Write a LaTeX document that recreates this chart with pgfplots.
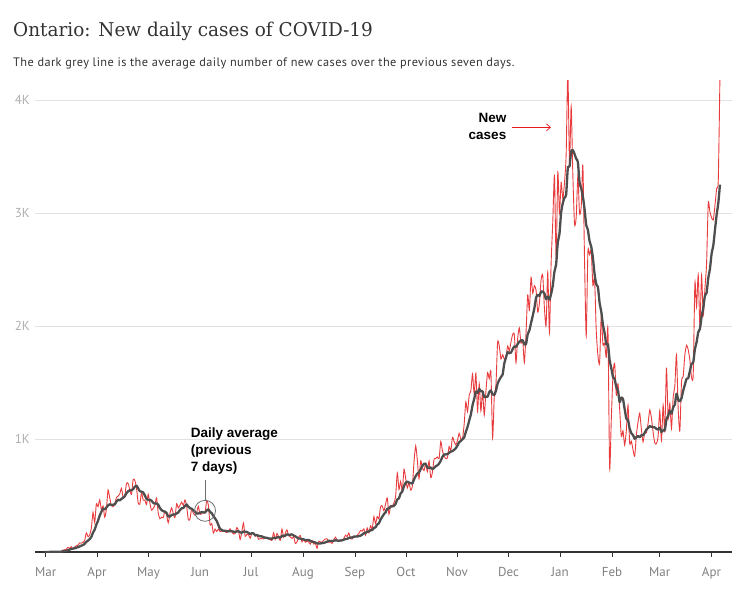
\documentclass[border=0pt]{standalone}
\usepackage{pgfplots}
\pgfplotsset{compat=1.18}
\usetikzlibrary{arrows.meta}
\usepackage{fontspec}
\setmainfont{PT Sans}
\newfontfamily\subfont{PT Sans}[LetterSpace=3.4]
\newfontfamily\titlefont{DejaVu Serif}[FakeStretch=0.97]
\newfontfamily\annfont{Liberation Sans}
\definecolor{redline}{RGB}{228,26,28}
\definecolor{avgline}{RGB}{78,78,78}
\definecolor{gridc}{RGB}{226,226,226}
\definecolor{xlab}{RGB}{128,128,128}
\definecolor{ylab}{RGB}{175,175,175}
\definecolor{txt}{RGB}{51,51,51}
\definecolor{circ}{RGB}{110,110,110}
\begin{document}
\begin{tikzpicture}[x=1pt,y=1pt]
\useasboundingbox (0,0) rectangle (749,589);
\node[anchor=base west, inner sep=0pt, text=txt, font=\titlefont\fontsize{19}{23}\selectfont] at (13,552.3) {Ontario: New daily cases of COVID-19};
\node[anchor=base west, inner sep=0pt, text=txt, font=\subfont\fontsize{12.3}{14}\selectfont] at (13,522.3) {The dark grey line is the average daily number of new cases over the previous seven days.};
\begin{axis}[
  at={(35pt,37pt)}, anchor=south west,
  width=697pt, height=471.2pt, scale only axis,
  xmin=-5.7, xmax=411.2, ymin=0, ymax=4170,
  axis x line*=bottom, axis y line*=left,
  y axis line style={draw=none},
  x axis line style={color=txt, line width=1.3pt, -},
  xtick={0.7,31.4,62.2,93,123.5,154.6,185.7,216.2,246.7,277.6,308.3,339.4,367.9,398.9},
  xticklabels={Mar,Apr,May,Jun,Jul,Aug,Sep,Oct,Nov,Dec,Jan,Feb,Mar,Apr},
  ytick={1000,2000,3000,4000}, yticklabels={1K,2K,3K,4K},
  ymajorgrids, grid style={gridc, line width=0.9pt},
  xtick align=outside, major tick length=4.5pt,
  xtick style={color=txt, line width=0.9pt},
  ytick style={draw=none},
  x tick label style={font=\fontsize{13}{15}\selectfont, text=xlab, anchor=base, inner sep=0pt, yshift=-20pt},
  y tick label style={font=\fontsize{13}{15}\selectfont, text=ylab, anchor=east, inner sep=0pt, xshift=-5pt},
  clip=true,
]
\addplot[color=redline, line width=0.9pt, draw opacity=0.85, smooth, tension=0.4, no markers] coordinates {
(0,0)(1,1)(2,2)(3,2)(4,2)(5,5)(6,3)(7,2)(8,3)(9,4)(10,5)(11,17)(12,20)(13,24)(14,42)(15,32)(16,47)(17,25)(18,43)(19,55)(20,60)(21,81)(22,78)(23,85)(24,100)(25,170)(26,135)(27,151)(28,211)(29,351)(30,260)
(31,426)(32,401)(33,462)(34,375)(35,408)(36,309)(37,379)(38,550)(39,478)(40,411)(41,401)(42,421)(43,483)(44,494)(45,514)(46,564)(47,485)(48,497)(49,606)(50,606)(51,551)(52,510)(53,640)(54,634)(55,567)(56,437)(57,424)(58,525)(59,459)(60,460)
(61,421)(62,511)(63,434)(64,370)(65,387)(66,412)(67,477)(68,346)(69,294)(70,308)(71,304)(72,361)(73,329)(74,258)(75,340)(76,391)(77,340)(78,304)(79,427)(80,390)(81,413)(82,441)(83,412)(84,460)(85,404)(86,287)(87,292)(88,383)(89,344)(90,326)(91,346)
(92,404)(93,335)(94,338)(95,356)(96,344)(97,455)(98,415)(99,243)(100,251)(101,167)(102,203)(103,182)(104,203)(105,181)(106,184)(107,190)(108,178)(109,173)(110,180)(111,206)(112,177)(113,159)(114,163)(115,216)(116,189)(117,111)(118,178)(119,257)(120,138)(121,157)
(122,153)(123,121)(124,164)(125,165)(126,138)(127,154)(128,112)(129,118)(130,118)(131,116)(132,129)(133,130)(134,116)(135,111)(136,102)(137,170)(138,111)(139,164)(140,135)(141,103)(142,203)(143,129)(144,165)(145,195)(146,144)(147,134)(148,119)(149,137)(150,76)(151,89)(152,131)
(153,146)(154,90)(155,114)(156,86)(157,95)(158,88)(159,70)(160,102)(161,70)(162,77)(163,33)(164,95)(165,87)(166,88)(167,105)(168,115)(169,117)(170,86)(171,89)(172,76)(173,109)(174,131)(175,105)(176,95)(177,108)(178,100)(179,118)(180,148)(181,137)(182,169)(183,118)
(184,114)(185,141)(186,132)(187,148)(188,165)(189,190)(190,185)(191,204)(192,149)(193,213)(194,170)(195,232)(196,204)(197,313)(198,251)(199,315)(200,293)(201,401)(202,407)(203,365)(204,425)(205,478)(206,335)(207,409)(208,409)(209,435)(210,491)(211,700)(212,554)(213,625)
(214,538)(215,732)(216,653)(217,566)(218,615)(219,548)(220,583)(221,797)(222,939)(223,809)(224,649)(225,807)(226,746)(227,721)(228,783)(229,712)(230,805)(231,658)(232,704)(233,821)(234,827)(235,841)(236,826)(237,978)(238,896)(239,851)(240,827)(241,834)(242,934)(243,896)(244,1015)
(245,977)(246,948)(247,987)(248,1050)(249,998)(250,1003)(251,1132)(252,1328)(253,1242)(254,1388)(255,1426)(256,1575)(257,1396)(258,1581)(259,1248)(260,1487)(261,1249)(262,1417)(263,1210)(264,1418)(265,1588)(266,1534)(267,1589)(268,1009)(269,1373)(270,1478)(271,1855)(272,1822)(273,1708)(274,1746)
(275,1707)(276,1723)(277,1824)(278,1780)(279,1859)(280,1924)(281,1925)(282,1676)(283,1890)(284,1983)(285,1848)(286,1873)(287,1677)(288,1940)(289,2275)(290,2139)(291,2432)(292,2290)(293,2357)(294,2316)(295,2123)(296,2202)(297,2408)(298,2447)(299,2159)(300,2005)(301,2476)(302,1939)(303,2553)(304,2923)(305,3328)
(306,2600)(307,3363)(308,3000)(309,3270)(310,3128)(311,3266)(312,3519)(313,4249)(314,3443)(315,3945)(316,3338)(317,2903)(318,2961)(319,3326)(320,2998)(321,3056)(322,3422)(323,2578)(324,1913)(325,2655)(326,2632)(327,2662)(328,2359)(329,2417)(330,1958)(331,1740)(332,1670)(333,2093)(334,1837)(335,1848)(336,1722)
(337,1969)(338,745)(339,1172)(340,1563)(341,1670)(342,1388)(343,1489)(344,1265)(345,1022)(346,1072)(347,945)(348,1076)(349,1300)(350,964)(351,981)(352,904)(353,847)(354,1038)(355,1150)(356,1228)(357,1087)(358,975)(359,1058)(360,1054)(361,1138)(362,1258)(363,1185)(364,1062)
(365,966)(366,958)(367,1023)(368,1250)(369,990)(370,1299)(371,1062)(372,1631)(373,1185)(374,1316)(375,1092)(376,1371)(377,1468)(378,1747)(379,1268)(380,1074)(381,1508)(382,1553)(383,1745)(384,1829)(385,1791)(386,1699)(387,1546)(388,1571)(389,2380)(390,2169)(391,2453)(392,2000)(393,2448)(394,2094)(395,2333)
(396,2557)(397,3089)(398,3009)(399,2958)(400,2938)(401,3065)(402,3215)(403,3295)(404,4227)
};
\addplot[color=avgline, line width=2.3pt, smooth, tension=0.4, no markers, line join=round] coordinates {
(0,0)(1,0)(2,0)(3,1)(4,1)(5,2)(6,2)(7,2)(8,3)(9,3)(10,3)(11,6)(12,8)(13,11)(14,16)(15,21)(16,27)(17,30)(18,33)(19,38)(20,43)(21,49)(22,56)(23,61)(24,72)(25,90)(26,101)(27,114)(28,133)(29,172)(30,197)
(31,243)(32,276)(33,323)(34,355)(35,383)(36,377)(37,394)(38,412)(39,423)(40,416)(41,419)(42,421)(43,446)(44,463)(45,457)(46,470)(47,480)(48,494)(49,520)(50,538)(51,546)(52,546)(53,556)(54,578)(55,588)(56,564)(57,538)(58,534)(59,527)(60,501)
(61,470)(62,462)(63,462)(64,454)(65,435)(66,428)(67,430)(68,420)(69,389)(70,371)(71,361)(72,357)(73,346)(74,314)(75,313)(76,327)(77,332)(78,332)(79,341)(80,350)(81,372)(82,387)(83,390)(84,407)(85,421)(86,401)(87,387)(88,383)(89,369)(90,357)(91,340)
(92,340)(93,347)(94,354)(95,350)(96,350)(97,368)(98,378)(99,355)(100,343)(101,319)(102,297)(103,274)(104,238)(105,204)(106,196)(107,187)(108,189)(109,184)(110,184)(111,185)(112,184)(113,180)(114,177)(115,182)(116,184)(117,174)(118,170)(119,182)(120,179)(121,178)
(122,169)(123,159)(124,167)(125,165)(126,148)(127,150)(128,144)(129,139)(130,138)(131,132)(132,126)(133,125)(134,120)(135,120)(136,117)(137,125)(138,124)(139,129)(140,130)(141,128)(142,141)(143,145)(144,144)(145,156)(146,153)(147,153)(148,156)(149,146)(150,139)(151,128)(152,119)
(153,119)(154,113)(155,112)(156,105)(157,107)(158,107)(159,98)(160,92)(161,89)(162,84)(163,76)(164,76)(165,76)(166,79)(167,79)(168,86)(169,91)(170,99)(171,98)(172,97)(173,100)(174,103)(175,102)(176,99)(177,102)(178,103)(179,109)(180,115)(181,116)(182,125)(183,128)
(184,129)(185,135)(186,137)(187,137)(188,141)(189,144)(190,154)(191,166)(192,168)(193,179)(194,182)(195,192)(196,194)(197,212)(198,219)(199,243)(200,254)(201,287)(202,312)(203,335)(204,351)(205,383)(206,386)(207,403)(208,404)(209,408)(210,426)(211,465)(212,476)(213,518)
(214,536)(215,582)(216,613)(217,624)(218,612)(219,611)(220,605)(221,642)(222,672)(223,694)(224,706)(225,733)(226,761)(227,781)(228,779)(229,747)(230,746)(231,747)(232,733)(233,743)(234,759)(235,767)(236,783)(237,808)(238,842)(239,863)(240,864)(241,865)(242,878)(243,888)(244,893)
(245,905)(246,919)(247,942)(248,972)(249,982)(250,997)(251,1014)(252,1064)(253,1106)(254,1163)(255,1217)(256,1299)(257,1355)(258,1419)(259,1408)(260,1443)(261,1423)(262,1422)(263,1370)(264,1373)(265,1374)(266,1415)(267,1429)(268,1395)(269,1389)(270,1427)(271,1489)(272,1523)(273,1548)(274,1570)
(275,1670)(276,1720)(277,1769)(278,1759)(279,1764)(280,1795)(281,1820)(282,1816)(283,1840)(284,1862)(285,1872)(286,1874)(287,1839)(288,1841)(289,1927)(290,1962)(291,2026)(292,2089)(293,2159)(294,2250)(295,2276)(296,2266)(297,2304)(298,2306)(299,2287)(300,2237)(301,2260)(302,2234)(303,2284)(304,2357)(305,2483)
(306,2546)(307,2740)(308,2815)(309,3005)(310,3087)(311,3136)(312,3164)(313,3399)(314,3411)(315,3546)(316,3555)(317,3523)(318,3480)(319,3452)(320,3273)(321,3218)(322,3143)(323,3035)(324,2893)(325,2850)(326,2751)(327,2703)(328,2603)(329,2459)(330,2371)(331,2346)(332,2205)(333,2128)(334,2011)(335,1938)(336,1838)
(337,1840)(338,1698)(339,1627)(340,1551)(341,1527)(342,1461)(343,1428)(344,1327)(345,1367)(346,1353)(347,1264)(348,1180)(349,1167)(350,1092)(351,1051)(352,1035)(353,1002)(354,1016)(355,1026)(356,1016)(357,1034)(358,1033)(359,1055)(360,1084)(361,1099)(362,1114)(363,1108)(364,1104)
(365,1103)(366,1089)(367,1084)(368,1100)(369,1062)(370,1078)(371,1078)(372,1173)(373,1206)(374,1248)(375,1225)(376,1279)(377,1304)(378,1401)(379,1350)(380,1334)(381,1361)(382,1427)(383,1480)(384,1532)(385,1538)(386,1600)(387,1667)(388,1676)(389,1794)(390,1855)(391,1944)(392,1974)(393,2081)(394,2159)(395,2268)
(396,2293)(397,2425)(398,2504)(399,2641)(400,2711)(401,2850)(402,2983)(403,3088)(404,3251)
};
% annotations
\draw[circ, line width=0.8pt] (axis cs:96,364.6) circle[radius=10.5pt];
\draw[circ, line width=0.8pt] (axis cs:96,457.5) -- (axis cs:96,637);
\node[anchor=base west, inner sep=0pt, font=\annfont\bfseries\fontsize{13.5}{16}\selectfont] at (axis cs:87.4,1009) {Daily average};
\node[anchor=base west, inner sep=0pt, font=\annfont\bfseries\fontsize{13.5}{16}\selectfont] at (axis cs:87.4,863) {(previous};
\node[anchor=base west, inner sep=0pt, font=\annfont\bfseries\fontsize{13.5}{16}\selectfont] at (axis cs:87.4,712) {7 days)};
\node[anchor=base east, inner sep=0pt, font=\annfont\bfseries\fontsize{13.5}{16}\selectfont] at (axis cs:276.3,3803) {New};
\node[anchor=base east, inner sep=0pt, font=\annfont\bfseries\fontsize{13.5}{16}\selectfont] at (axis cs:276.3,3649) {cases};
\draw[redline, line width=0.7pt, -{Straight Barb[length=4pt,width=7pt]}] (axis cs:279.6,3758) -- (axis cs:302.9,3758);
\end{axis}
\end{tikzpicture}
\end{document}
